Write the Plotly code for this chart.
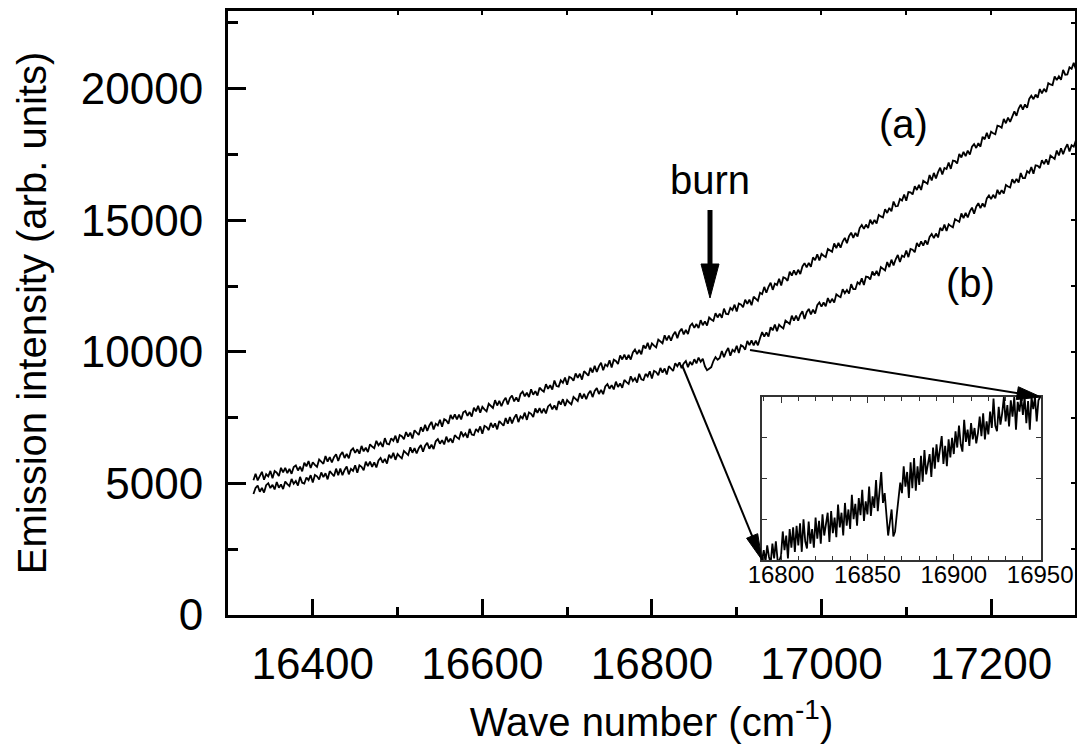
import plotly.graph_objects as go

# emission spectra, sampled every 2.5 cm-1 from 16330 to 17300
wave = [16330 + 2.5 * i for i in range(389)]

spec_a = [
    5120, 5368, 5116, 5314, 5442, 5140, 5348, 5266, 5474, 5192, 5470, 5408, 5276, 5594, 5422, 5590, 5388, 5556, 5364, 5622,
    5680, 5492, 5634, 5456, 5788, 5650, 5852, 5584, 5806, 5708, 5630, 5912, 5844, 5746, 6038, 5830, 6002, 5794, 5996, 6108,
    5850, 6085, 6190, 5965, 6120, 5955, 6250, 6335, 6160, 6295, 6130, 6425, 6220, 6355, 6190, 6485, 6400, 6335, 6620, 6445,
    6550, 6385, 6720, 6505, 6480, 6715, 6620, 6815, 6540, 6835, 6790, 6675, 6950, 6775, 6930, 6705, 7020, 6915, 6840, 7135,
    6970, 7230, 6990, 7200, 7340, 7050, 7270, 7200, 7420, 7150, 7440, 7390, 7270, 7600, 7440, 7620, 7430, 7610, 7430, 7700,
    7750, 7566, 7712, 7538, 7874, 7740, 7946, 7682, 7908, 7814, 7740, 8026, 7962, 7868, 8164, 7960, 8136, 7932, 8138, 8254,
    8000, 8235, 8340, 8115, 8270, 8105, 8400, 8485, 8310, 8445, 8280, 8575, 8370, 8505, 8340, 8635, 8550, 8485, 8770, 8595,
    8730, 8569, 8908, 8697, 8676, 8915, 8824, 9023, 8752, 9051, 9010, 8899, 9178, 9007, 9166, 8945, 9264, 9163, 9092, 9391,
    9210, 9472, 9234, 9446, 9588, 9300, 9522, 9454, 9676, 9408, 9700, 9652, 9534, 9866, 9708, 9890, 9702, 9884, 9706, 9978,
    10090, 9915, 10070, 9905, 10250, 10125, 10340, 10085, 10320, 10235, 10170, 10465, 10410, 10325, 10630, 10435, 10620, 10425, 10640, 10765,
    10520, 10765, 10880, 10665, 10830, 10675, 10980, 11075, 10910, 11055, 10900, 11205, 11010, 11155, 11000, 11305, 11230, 11175, 11470, 11305,
    11450, 11296, 11642, 11438, 11424, 11670, 11586, 11792, 11528, 11834, 11800, 11696, 11982, 11818, 11984, 11770, 12096, 12002, 11938, 12244,
    12190, 12467, 12244, 12471, 12628, 12355, 12592, 12539, 12776, 12523, 12830, 12797, 12694, 13041, 12898, 13095, 12922, 13119, 12956, 13243,
    13370, 13210, 13380, 13230, 13590, 13480, 13710, 13470, 13720, 13650, 13600, 13910, 13870, 13800, 14120, 13940, 14140, 13960, 14190, 14330,
    14130, 14394, 14528, 14332, 14516, 14380, 14704, 14818, 14672, 14836, 14700, 15024, 14848, 15012, 14876, 15200, 15144, 15108, 15422, 15276,
    15470, 15340, 15710, 15530, 15540, 15810, 15750, 15980, 15740, 16070, 16060, 15980, 16290, 16150, 16340, 16150, 16500, 16430, 16390, 16720,
    16510, 16799, 16588, 16827, 16996, 16735, 16984, 16943, 17192, 16951, 17270, 17249, 17158, 17517, 17386, 17595, 17434, 17643, 17492, 17791,
    17890, 17745, 17930, 17795, 18170, 18075, 18320, 18095, 18360, 18305, 18270, 18595, 18570, 18515, 18850, 18685, 18900, 18735, 18980, 19135,
    18970, 19245, 19390, 19205, 19400, 19275, 19610, 19735, 19600, 19775, 19650, 19985, 19820, 19995, 19870, 20205, 20160, 20135, 20460, 20325,
    20470, 20340, 20710, 20530, 20540, 20810, 20750, 20980, 20740,
]

spec_b = [
    4600, 4824, 4918, 4682, 4826, 4650, 4934, 5008, 4822, 4946, 4770, 5054, 4838, 4962, 4786, 5070, 4974, 4898, 5172, 4986,
    5090, 4919, 5248, 5027, 4996, 5225, 5124, 5313, 5032, 5321, 5270, 5149, 5418, 5237, 5386, 5155, 5464, 5353, 5272, 5561,
    5310, 5561, 5312, 5513, 5644, 5345, 5556, 5477, 5688, 5409, 5690, 5631, 5502, 5823, 5654, 5825, 5626, 5797, 5608, 5869,
    5970, 5785, 5930, 5755, 6090, 5955, 6160, 5895, 6120, 6025, 5950, 6235, 6170, 6075, 6370, 6165, 6340, 6135, 6340, 6455,
    6200, 6435, 6540, 6315, 6470, 6305, 6600, 6685, 6510, 6645, 6480, 6775, 6570, 6705, 6540, 6835, 6750, 6685, 6970, 6795,
    6900, 6735, 7070, 6855, 6830, 7065, 6970, 7165, 6890, 7185, 7140, 7025, 7300, 7125, 7280, 7055, 7370, 7265, 7190, 7485,
    7270, 7526, 7282, 7488, 7624, 7330, 7546, 7472, 7688, 7414, 7700, 7646, 7522, 7848, 7684, 7860, 7666, 7842, 7658, 7924,
    8000, 7817, 7964, 7791, 8128, 7995, 8202, 7939, 8166, 8073, 8000, 8287, 8224, 8131, 8428, 8225, 8402, 8199, 8406, 8523,
    8280, 8516, 8622, 8398, 8554, 8390, 8686, 8772, 8598, 8734, 8570, 8866, 8662, 8798, 8634, 8930, 8846, 8782, 9068, 8894,
    9000, 8834, 9168, 8952, 8926, 9160, 9064, 9258, 8982, 9276, 9230, 9114, 9388, 9212, 9366, 9140, 9454, 9348, 9272, 9566,
    9450, 9600, 9380, 9560, 9650, 9420, 9620, 9500, 9720, 9560, 9780, 9620, 9740, 9450, 9300, 9360, 9420, 9650, 9800, 9700,
    9770, 10031, 9792, 10003, 10144, 9855, 10076, 10007, 10228, 9959, 10250, 10201, 10082, 10413, 10254, 10435, 10246, 10427, 10248, 10519,
    10750, 10581, 10742, 10583, 10934, 10815, 11036, 10787, 11028, 10949, 10890, 11191, 11142, 11063, 11374, 11185, 11376, 11187, 11408, 11539,
    11250, 11505, 11630, 11425, 11600, 11455, 11770, 11875, 11720, 11875, 11730, 12045, 11860, 12015, 11870, 12185, 12120, 12075, 12380, 12225,
    12350, 12210, 12570, 12380, 12380, 12640, 12570, 12790, 12540, 12860, 12840, 12750, 13050, 12900, 13080, 12880, 13220, 13140, 13090, 13410,
    13220, 13502, 13284, 13516, 13678, 13410, 13652, 13604, 13846, 13598, 13910, 13882, 13784, 14136, 13998, 14200, 14032, 14234, 14076, 14368,
    14480, 14322, 14494, 14346, 14708, 14600, 14832, 14594, 14846, 14778, 14730, 15042, 15004, 14936, 15258, 15080, 15282, 15104, 15336, 15478,
    15250, 15515, 15650, 15455, 15640, 15505, 15830, 15945, 15800, 15965, 15830, 16155, 15980, 16145, 16010, 16335, 16280, 16245, 16560, 16415,
    16570, 16431, 16792, 16603, 16604, 16865, 16796, 17017, 16768, 17089, 17070, 16981, 17282, 17133, 17314, 17115, 17456, 17377, 17328, 17649,
    17460, 17735, 17510, 17735, 17890, 17615, 17850, 17795, 18030,
]

# inset: curve (b) around the burn position, every 1 cm-1
inset_wave = list(range(16789, 16951))
inset_b = [
    9000, 9120, 8980, 9180, 9040, 8960, 9200, 9020, 9230, 9000,
    8990, 9050, 9350, 9120, 9300, 9020, 9380, 9150, 9400, 9100,
    9420, 9180, 9450, 9100, 9500, 9230, 9140, 9470, 9200, 9380,
    9150, 9520, 9260, 9480, 9200, 9560, 9300, 9450, 9580, 9220,
    9600, 9330, 9520, 9280, 9680, 9400, 9580, 9300, 9700, 9420,
    9620, 9380, 9800, 9500, 9690, 9420, 9760, 9550, 9860, 9480,
    9720, 9560, 9900, 9540, 9780, 9640, 9980, 9600, 9850, 10080,
    9700, 9820, 9560, 9300, 9460, 9620, 9290, 9350, 9560, 9750,
    9950, 9820, 10150, 9900, 10080, 9760, 10200, 9880, 10250, 9850,
    10150, 9920, 10280, 9960, 10350, 10050, 10180, 10300, 10020, 10380,
    10120, 10420, 10200, 10360, 10520, 10180, 10400, 10150, 10480, 10260,
    10500, 10300, 10580, 10380, 10650, 10420, 10330, 10720, 10450, 10600,
    10400, 10680, 10480, 10620, 10430, 10560, 10760, 10520, 10800, 10480,
    10700, 10540, 10820, 10620, 10980, 10650, 10580, 10880, 10660, 10800,
    11000, 10700, 10900, 10640, 10960, 10760, 11000, 10600, 10940, 10820,
    11000, 10780, 11000, 10680, 10950, 10600, 11000, 10850, 11000, 10700,
    10960, 11000,
]

FONT = 'Liberation Sans, Arial, sans-serif'

# plot area in pixels and axis ranges
L, T, W, H = 228, 11, 847, 604
XR = [16300, 17299]
YR = [0, 22950]


def px2x(px):
    return XR[0] + (px - L) / W * (XR[1] - XR[0])


def py2y(py):
    return YR[0] + (T + H - py) / H * (YR[1] - YR[0])


def arrow(x0, y0, x1, y1, lw, hl, hw):
    # line from (x0,y0) to (x1,y1) in pixels, triangle head at (x1,y1)
    dx, dy = x1 - x0, y1 - y0
    n = (dx ** 2 + dy ** 2) ** 0.5
    ux, uy = dx / n, dy / n
    bx, by = x1 - ux * hl, y1 - uy * hl
    px_, py_ = -uy * hw / 2, ux * hw / 2
    return [
        dict(type='line', xref='x', yref='y',
             x0=px2x(x0), y0=py2y(y0), x1=px2x(bx + ux * 2), y1=py2y(by + uy * 2),
             line=dict(color='black', width=lw)),
        dict(type='path', xref='x', yref='y',
             path='M {},{} L {},{} L {},{} Z'.format(
                 px2x(bx + px_), py2y(by + py_),
                 px2x(bx - px_), py2y(by - py_),
                 px2x(x1), py2y(y1)),
             fillcolor='black', line=dict(color='black', width=1)),
    ]


trace_a = go.Scatter(x=wave, y=spec_a, mode='lines', line=dict(color='black', width=1.8),
                     name='(a)', showlegend=False)
trace_b = go.Scatter(x=wave, y=spec_b, mode='lines', line=dict(color='black', width=1.8),
                     name='(b)', showlegend=False)
trace_in = go.Scatter(x=inset_wave, y=inset_b, mode='lines', line=dict(color='black', width=1.8),
                      xaxis='x3', yaxis='y3', showlegend=False)
trace_dummy = go.Scatter(x=[None], y=[None], xaxis='x2', yaxis='y2', showlegend=False,
                         hoverinfo='skip')

shapes = []
shapes += arrow(710, 210, 710, 298, 5, 34, 18)
shapes += arrow(682, 365, 762, 560, 2, 26, 12)
shapes += arrow(750, 350, 1041, 397, 2, 24, 13)

annotations = [
    dict(x=px2x(710), y=py2y(180), xref='x', yref='y', text='burn', showarrow=False,
         font=dict(size=40, family=FONT, color='black')),
    dict(x=px2x(903), y=py2y(124), xref='x', yref='y', text='(a)', showarrow=False,
         font=dict(size=40, family=FONT, color='black')),
    dict(x=px2x(970), y=py2y(283), xref='x', yref='y', text='(b)', showarrow=False,
         font=dict(size=40, family=FONT, color='black')),
]

layout = go.Layout(
    width=1077, height=748,
    margin=dict(l=L, r=1077 - L - W, t=T, b=748 - T - H),
    paper_bgcolor='white', plot_bgcolor='white',
    font=dict(family=FONT, color='black'),
    xaxis=dict(range=XR, ticks='inside', ticklen=16, tickwidth=3, tickcolor='black',
               tick0=16400, dtick=200, tickformat='d', automargin=False,
               minor=dict(dtick=100, ticks='inside', ticklen=8, tickwidth=3, tickcolor='black'),
               showline=True, linewidth=3, linecolor='black', mirror=True,
               showgrid=False, zeroline=False,
               tickfont=dict(size=44), ticklabelstandoff=8,
               title=dict(text='Wave number (cm<sup>-1</sup>)', font=dict(size=40), standoff=22)),
    yaxis=dict(range=YR, ticks='inside', ticklen=18, tickwidth=3, tickcolor='black',
               tick0=0, dtick=5000, tickformat='d', automargin=False,
               minor=dict(dtick=2500, ticks='inside', ticklen=10, tickwidth=3, tickcolor='black'),
               showline=True, linewidth=3, linecolor='black', mirror=True,
               showgrid=False, zeroline=False,
               tickfont=dict(size=44), ticklabelstandoff=13,
               title=dict(text='Emission intensity (arb. units)', font=dict(size=40), standoff=22)),
    xaxis2=dict(overlaying='x', side='top', anchor='y2', range=XR, ticks='inside', ticklen=4,
                tickwidth=1.5, tickcolor='black', tick0=16300, dtick=100, automargin=False,
                showticklabels=False, showgrid=False, zeroline=False, showline=False),
    yaxis2=dict(overlaying='y', side='right', anchor='x2', range=YR, ticks='inside', ticklen=4,
                tickwidth=1.5, tickcolor='black', tick0=0, dtick=2500, automargin=False,
                showticklabels=False, showgrid=False, zeroline=False, showline=False),
    xaxis3=dict(domain=[0.6305, 0.9599], anchor='y3', range=[16789, 16950.5],
                ticks='inside', ticklen=6, tickwidth=1, tickcolor='#333', tick0=16800, dtick=50,
                tickformat='d', automargin=False,
                minor=dict(dtick=10, ticks='inside', ticklen=4, tickwidth=1, tickcolor='#333'),
                showline=True, linewidth=1.5, linecolor='#333', mirror='allticks',
                showgrid=False, zeroline=False, tickfont=dict(size=24), ticklabelstandoff=-8),
    yaxis3=dict(domain=[0.0911, 0.3609], anchor='x3', range=[9000, 11000],
                ticks='inside', ticklen=5, tickwidth=1, tickcolor='#333', dtick=500,
                automargin=False,
                showline=True, linewidth=1.5, linecolor='#333', mirror='allticks',
                showticklabels=False, showgrid=False, zeroline=False),
    shapes=shapes,
    annotations=annotations,
)

fig = go.Figure([trace_a, trace_b, trace_in, trace_dummy], layout=layout)
# page body has a default 8px margin; drop it so the figure fills the window
fig.write_html("out.html", config={'displayModeBar': False},
               post_script="document.body.style.margin='0';")
